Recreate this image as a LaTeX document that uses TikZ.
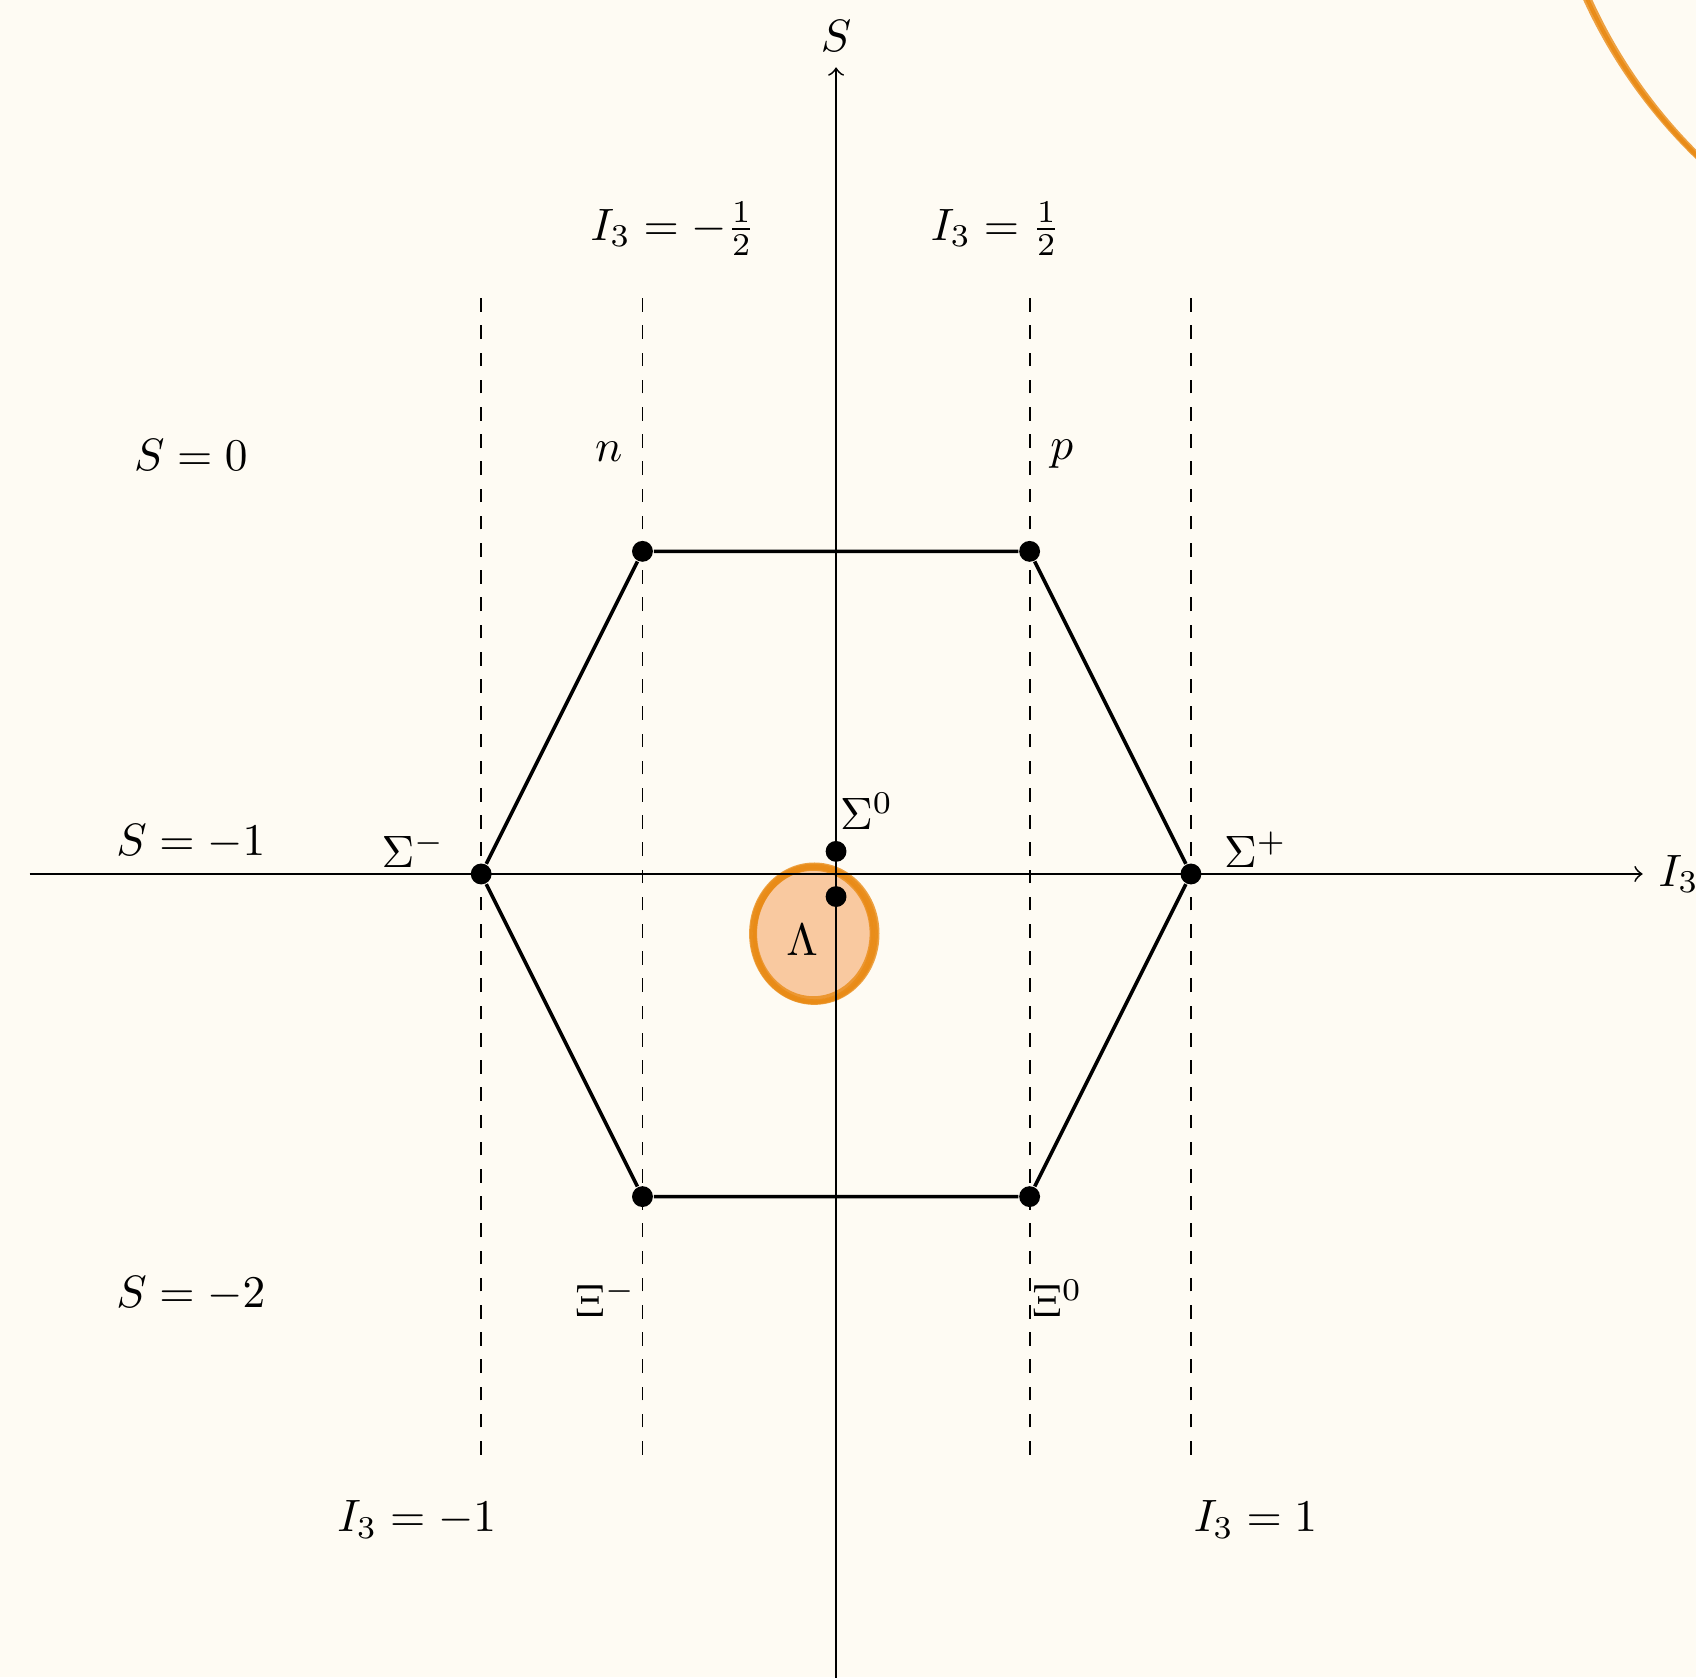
\documentclass[tikz,border=0pt]{standalone}
\usepackage{xcolor}
\usepackage{amsmath}
\usepackage{tikz}

\definecolor{paper}{HTML}{FEFBF3}
\definecolor{marker}{HTML}{E98B16}
\definecolor{markerfill}{HTML}{F9C9A0}

\begin{document}
\begin{tikzpicture}[
    x=1.25cm, y=1.25cm,
    axis/.style={->, thin},
    guide/.style={dashed, thin},
    edge/.style={thick, line join=round},
    particle/.style={circle, fill=black, inner sep=0pt, minimum size=4.6pt},
    brush/.style={draw=marker, line width=0.8pt, opacity=0.8}
]
    \fill[paper] (-5.183,-4.979) rectangle (5.331,5.418);
    \useasboundingbox (-5.183,-4.979) rectangle (5.331,5.418);

    \begin{scope}
        \clip (-5.183,-4.979) rectangle (5.331,5.418);
        \foreach \d/\r in {0/3.224, 0.01/3.214, -0.01/3.234, 0.005/3.228}
            \draw[brush] (7.594+\d,6.757-\d) circle[radius=\r];
    \end{scope}

    \fill[markerfill] (-0.137,-0.372) ellipse[x radius=0.38, y radius=0.42];
    \foreach \dx/\dy/\rx/\ry in {0/0/0.385/0.425, 0.004/-0.004/0.372/0.412, -0.004/0.003/0.36/0.40, 0.002/0.002/0.393/0.43, -0.003/-0.002/0.366/0.418}
        \draw[brush] (-0.137+\dx,-0.372+\dy) ellipse[x radius=\rx, y radius=\ry];

    \coordinate (west) at (-5,0);
    \coordinate (east) at (5,0);
    \coordinate (south) at (0,-5);
    \coordinate (north) at (0,5);
    \draw[axis] (west) -- (east) node[right] (iaxis) {$I_3$};
    \draw[axis] (south) -- (north) node[above] (saxis) {$S$};

    \foreach \x in {-2.2,-1.2,1.2,2.2}
        \draw[guide] (\x,-3.6) -- (\x,3.6);

    \node[particle] (n) at (-1.2,2) {};
    \node[particle] (p) at (1.2,2) {};
    \node[particle] (sigp) at (2.2,0) {};
    \node[particle] (xizero) at (1.2,-2) {};
    \node[particle] (ximinus) at (-1.2,-2) {};
    \node[particle] (sigm) at (-2.2,0) {};
    \node[particle] (sigzero) at (0,0.14) {};
    \node[particle] (lambda) at (0,-0.14) {};

    \draw[edge] (n) -- (p) -- (sigp) -- (xizero) -- (ximinus) -- (sigm) -- (n);

    \node (nlabel) at (-1.41,2.62) {$n$};
    \node (plabel) at (1.4,2.6) {$p$};
    \node (sigmlabel) at (-2.62,0.15) {$\Sigma^-$};
    \node (sigplabel) at (2.6,0.15) {$\Sigma^+$};
    \node (sigzerolabel) at (0.19,0.39) {$\Sigma^0$};
    \node (lambdalabel) at (-0.21,-0.41) {$\Lambda$};
    \node (ximlabel) at (-1.43,-2.63) {$\Xi^-$};
    \node (xizlabel) at (1.37,-2.63) {$\Xi^0$};

    \node (shalf) at (-1.01,4) {$I_3 = -\frac{1}{2}$};
    \node (phalf) at (0.99,4) {$I_3 = \frac{1}{2}$};
    \node (ione) at (-2.6,-4) {$I_3 = -1$};
    \node (pone) at (2.6,-4) {$I_3 = 1$};
    \node (szero) at (-4,2.6) {$S = 0$};
    \node (sone) at (-4,0.2) {$S = -1$};
    \node (stwo) at (-4,-2.6) {$S = -2$};
\end{tikzpicture}
\end{document}
